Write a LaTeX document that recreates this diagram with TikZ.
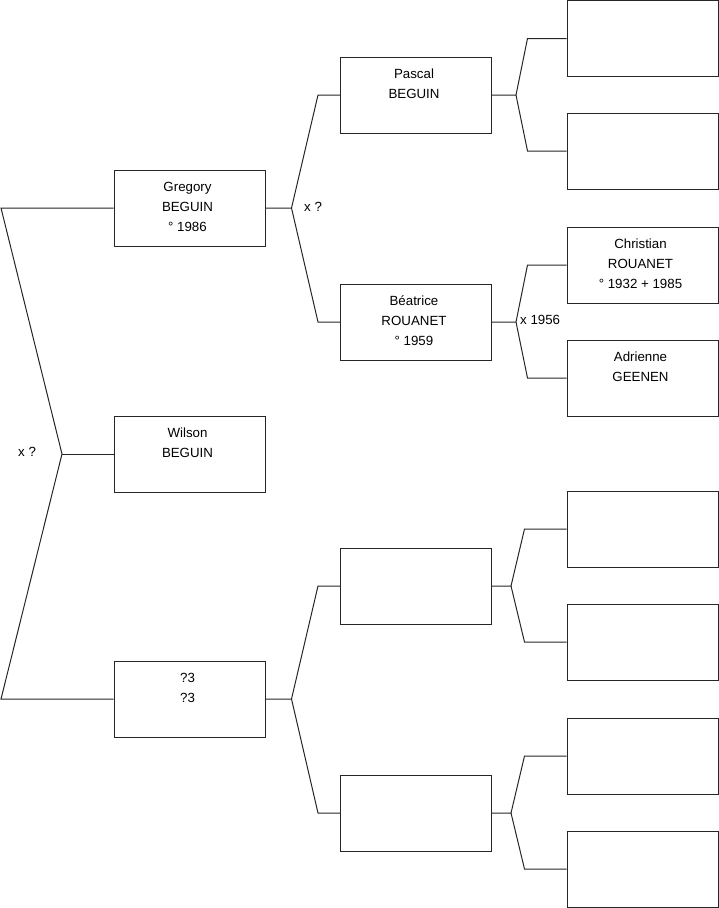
\documentclass[tikz,border=0pt]{standalone}
\usepackage{fontspec}
\setmainfont{Liberation Sans}
\usetikzlibrary{positioning,calc}
\tikzset{
  persbox/.style={draw=black!85, line width=1pt, minimum width=151pt, minimum height=76pt, inner sep=0pt},
  perstxt/.style={anchor=north, align=center, inner sep=0pt, xshift=-2pt, font=\fontsize{13.3}{20}\selectfont},
  link/.style={draw=black!85, line width=1pt},
  marr/.style={anchor=west, inner sep=0pt, font=\fontsize{13.3}{15}\selectfont},
}

\begin{document}
\begin{tikzpicture}[x=1pt, y=-1pt]
  \useasboundingbox (0,0) rectangle (719,908);
  % generation 1
  \node[persbox] (gregory) at (189.5,208) {};
  \node[persbox] (wilson) at (189.5,454) {};
  \node[persbox] (unk) at (189.5,699) {};
  % generation 2
  \node[persbox] (pascal) at (416,95) {};
  \node[persbox] (beatrice) at (416,322) {};
  \node[persbox] (unkf) at (416,586) {};
  \node[persbox] (unkm) at (416,813) {};
  % generation 3
  \node[persbox] (pascalf) at (642.5,38.5) {};
  \node[persbox] (pascalm) at (642.5,151) {};
  \node[persbox] (christian) at (642.5,265) {};
  \node[persbox] (adrienne) at (642.5,378) {};
  \node[persbox] (unkff) at (642.5,529) {};
  \node[persbox] (unkfm) at (642.5,642) {};
  \node[persbox] (unkmf) at (642.5,756) {};
  \node[persbox] (unkmm) at (642.5,869) {};

  % names
  \node[perstxt, below=12.5pt of gregory.north] (gregoryT) {Gregory\\BEGUIN\\° 1986};
  \node[perstxt, below=12.5pt of wilson.north] (wilsonT) {Wilson\\BEGUIN};
  \node[perstxt, below=12.5pt of unk.north] (unkT) {?3\\?3};
  \node[perstxt, below=12.5pt of pascal.north] (pascalT) {Pascal\\BEGUIN};
  \node[perstxt, below=12.5pt of beatrice.north] (beatriceT) {Béatrice\\ROUANET\\° 1959};
  \node[perstxt, below=12.5pt of christian.north] (christianT) {Christian\\ROUANET\\° 1932 + 1985};
  \node[perstxt, below=12.5pt of adrienne.north] (adrienneT) {Adrienne\\GEENEN};

  % root fork
  \coordinate (r1) at (1,208);
  \coordinate (r2) at (1,699);
  \coordinate (m0) at (62,454);
  \draw[link] (gregory.west) -- (r1) -- (m0) -- (r2) -- (unk.west);
  \draw[link] (m0) -- (wilson.west);
  \node[marr] (m0T) at (18,452) {x ?};

  % generation 1 -> 2
  \coordinate (m1) at ($(gregory.east)+(26,0)$);
  \draw[link] (gregory.east) -- (m1) -- ([xshift=-22pt]pascal.west) -- (pascal.west);
  \draw[link] (m1) -- ([xshift=-22pt]beatrice.west) -- (beatrice.west);
  \node[marr] (m1T) at (304,207) {x ?};
  \coordinate (m2) at ($(unk.east)+(26,0)$);
  \draw[link] (unk.east) -- (m2) -- ([xshift=-22pt]unkf.west) -- (unkf.west);
  \draw[link] (m2) -- ([xshift=-22pt]unkm.west) -- (unkm.west);

  % generation 2 -> 3
  \coordinate (m3) at ($(pascal.east)+(24,0)$);
  \draw[link] (pascal.east) -- (m3) -- ([xshift=-39pt]pascalf.west) -- (pascalf.west);
  \draw[link] (m3) -- ([xshift=-39pt]pascalm.west) -- (pascalm.west);
  \coordinate (m4) at ($(beatrice.east)+(24,0)$);
  \draw[link] (beatrice.east) -- (m4) -- ([xshift=-39pt]christian.west) -- (christian.west);
  \draw[link] (m4) -- ([xshift=-39pt]adrienne.west) -- (adrienne.west);
  \node[marr] (m4T) at (520,320) {x 1956};
  \coordinate (m5) at ($(unkf.east)+(19,0)$);
  \draw[link] (unkf.east) -- (m5) -- ([xshift=-42pt]unkff.west) -- (unkff.west);
  \draw[link] (m5) -- ([xshift=-42pt]unkfm.west) -- (unkfm.west);
  \coordinate (m6) at ($(unkm.east)+(19,0)$);
  \draw[link] (unkm.east) -- (m6) -- ([xshift=-42pt]unkmf.west) -- (unkmf.west);
  \draw[link] (m6) -- ([xshift=-42pt]unkmm.west) -- (unkmm.west);
\end{tikzpicture}
\end{document}
